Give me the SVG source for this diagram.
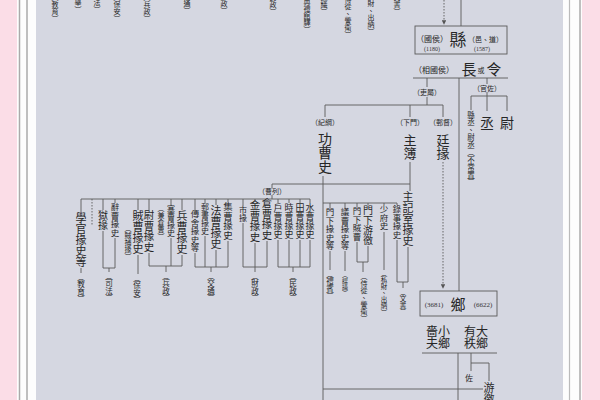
<svg xmlns="http://www.w3.org/2000/svg" width="600" height="400" viewBox="0 0 600 400">
<style>
.v{writing-mode:vertical-rl;font-family:"Noto Sans CJK TC","Noto Sans CJK SC",sans-serif;fill:#262626}
.h{font-family:"Noto Sans CJK TC","Noto Sans CJK SC",sans-serif;fill:#262626}
.n{font-family:"Liberation Serif",serif;fill:#333}
.ln{stroke:#5a5a5a;stroke-width:0.9;fill:none}
.dt{stroke:#5a5a5a;stroke-width:0.9;fill:none;stroke-dasharray:1.5 1.5}
</style>
<defs>
<marker id="ar" viewBox="0 0 6 6" refX="5" refY="3" markerWidth="5" markerHeight="5" orient="auto"><path d="M0,0L6,3L0,6z" fill="#555"/></marker>
</defs>
<rect width="600" height="400" fill="#fbdde7"/>
<rect x="17" y="0" width="19" height="400" fill="#fdfdfd"/>
<rect x="563" y="0" width="19" height="400" fill="#fdfdfd"/>
<line x1="19.5" y1="0" x2="19.5" y2="400" stroke="#aaa" stroke-width="1.5"/>
<line x1="27" y1="0" x2="27" y2="400" stroke="#aaa" stroke-width="1.5"/>
<line x1="569.5" y1="0" x2="569.5" y2="400" stroke="#bbb" stroke-width="1.2"/>
<line x1="580" y1="0" x2="580" y2="400" stroke="#aaa" stroke-width="1.5"/>
<rect x="36" y="0" width="527" height="400" fill="#d5d7e1"/>

<g id="top-labels" font-size="7">
<text class="v" x="55" y="-6">（教育）</text>
<text class="v" x="78" y="-15">（選舉）</text>
<text class="v" x="97" y="-15">（司法）</text>
<text class="v" x="117" y="-6">（保安）</text>
<text class="v" x="147" y="-6">（兵政）</text>
<text class="v" x="187" y="-14">（交通）</text>
<text class="v" x="224" y="-14">（財政）</text>
<text class="v" x="273" y="-13">（民政）</text>
<text class="v" x="307" y="-9">（典禮館驛）</text>
<text class="v" x="324" y="-13">（謀議）</text>
<text class="v" x="348" y="-11">（侍從、警衛）</text>
<text class="v" x="371" y="-14">（私財、出納）</text>
<text class="v" x="397" y="-13">（文書）</text>
</g>

<g id="connectors">
<line class="dt" x1="444" y1="0" x2="444" y2="24" marker-end="url(#ar)"/>
<line class="ln" x1="461" y1="0" x2="461" y2="26"/>
<line class="ln" x1="413" y1="78" x2="508" y2="78"/>
<line class="ln" x1="459" y1="78" x2="459" y2="291"/>
<line class="ln" x1="427" y1="78" x2="427" y2="87"/>
<line class="ln" x1="427" y1="97" x2="427" y2="105"/>
<line class="ln" x1="325" y1="105" x2="443" y2="105"/>
<line class="ln" x1="325" y1="105" x2="325" y2="117"/>
<line class="ln" x1="410" y1="105" x2="410" y2="117"/>
<line class="ln" x1="443" y1="105" x2="443" y2="117"/>
<line class="ln" x1="487" y1="78" x2="487" y2="84"/>
<line class="ln" x1="487" y1="92" x2="487" y2="96"/>
<line class="ln" x1="471" y1="96" x2="507" y2="96"/>
<line class="ln" x1="471" y1="96" x2="471" y2="110"/>
<line class="ln" x1="487" y1="96" x2="487" y2="111"/>
<line class="ln" x1="507" y1="96" x2="507" y2="111"/>
<line class="dt" x1="443" y1="162" x2="443" y2="288" marker-end="url(#ar)"/>
<line class="ln" x1="410" y1="162" x2="410" y2="191"/>
<line class="ln" x1="272" y1="184" x2="410" y2="184"/>
<line class="ln" x1="323" y1="176" x2="323" y2="400"/>
<line class="ln" x1="272" y1="184" x2="272" y2="188"/>
<line class="ln" x1="272" y1="195" x2="272" y2="199"/>
<line class="ln" x1="81" y1="199" x2="310" y2="199"/>
<line class="dt" x1="92" y1="199" x2="92" y2="226"/>
<path class="ln" d="M81,199V212M81,268V273"/>
<path class="ln" d="M103,199V210M115,199V203M103,231V268H115V238M109,268V272"/>
<path class="ln" d="M138,199V210M138,255V274"/>
<path class="ln" d="M149,199V210M171,199V205M182,199V210M149,253V266H182V255M171,238V266M166,266V272"/>
<path class="ln" d="M195,199V210M205,199V203M216,199V205M228,199V202M195,253V267H228V241M205,236V267M216,250V267M211,267V272"/>
<path class="ln" d="M243,199V206M255,199V200M267,199V199M243,223V267H267V241M255,243V272"/>
<path class="ln" d="M278,199V203M289,199V203M300,199V203M310,199V203M278,240V267H310V240M289,240V267M300,240V267M293,267V272"/>
<line class="ln" x1="323" y1="203" x2="397" y2="203"/>
<path class="ln" d="M330,203V208M345,203V208M357,203V207M368,203V205M384,203V205M397,203V205"/>
<path class="ln" d="M330,251V270M345,251V271M357,242V262H368V246M363,262V272M384,232V270M397,240V282H408V247M403,282V288"/>
<line class="ln" x1="458" y1="353" x2="458" y2="400"/>
<path class="ln" d="M471,353V371M471,363H489V381"/>
<line class="ln" x1="323" y1="389" x2="483" y2="389"/>
</g>

<g id="county">
<rect x="415" y="26" width="92" height="28" fill="none" stroke="#5a5a5a" stroke-width="0.9"/>
<text class="h" x="416" y="42" font-size="8">（國侯）</text>
<text class="h" x="458" y="46" font-size="17" text-anchor="middle">縣</text>
<text class="h" x="468" y="42" font-size="7">（邑、道）</text>
<text class="n" x="432" y="51" font-size="6" text-anchor="middle">(1180)</text>
<text class="n" x="482" y="51" font-size="6" text-anchor="middle">(1587)</text>
</g>
<g id="head">
<text class="h" x="414" y="73" font-size="8">（相國侯）</text>
<text class="h" x="469" y="75" font-size="15" text-anchor="middle">長</text>
<text class="h" x="481" y="73" font-size="7" text-anchor="middle">或</text>
<text class="h" x="494" y="75" font-size="15" text-anchor="middle">令</text>
</g>
<g id="guanzuo">
<text class="h" x="487" y="91" font-size="7" text-anchor="middle">（官佐）</text>
<text class="h" x="487" y="128" font-size="14" text-anchor="middle">丞</text>
<text class="h" x="507" y="128" font-size="14" text-anchor="middle">尉</text>
<text class="v" x="471" y="111" font-size="7.5">縣丞、尉丞（不常置）</text>
</g>
<g id="lishu">
<text class="h" x="427" y="95" font-size="7" text-anchor="middle">（吏屬）</text>
</g>
<g id="gongcao">
<text class="h" x="325" y="125" font-size="7" text-anchor="middle">（紀綱）</text>
<text class="v" x="325" y="132" font-size="14">功曹史</text>
</g>
<g id="zhubu">
<text class="h" x="410" y="125" font-size="7" text-anchor="middle">（下門）</text>
<text class="v" x="410" y="134" font-size="13">主簿</text>
</g>
<g id="tingyuan">
<text class="h" x="443" y="125" font-size="7" text-anchor="middle">（郵督）</text>
<text class="v" x="443" y="134" font-size="13">廷掾</text>
</g>
<g id="liecao">
<text class="h" x="272" y="194" font-size="7" text-anchor="middle">（曹列）</text>
</g>

<g id="jiaoyu">
<text class="v" x="81" y="212" font-size="11">學官掾史等</text>
<text class="v" x="81" y="273" font-size="7.5">（教育）</text>
</g>
<g id="sifa">
<text class="v" x="103" y="210" font-size="10">獄掾</text>
<text class="v" x="115" y="203" font-size="8.5">辭曹掾史</text>
<text class="v" x="109" y="272" font-size="7.5">（司法）</text>
</g>
<g id="baoan">
<text class="v" x="128" y="225" font-size="7">（賊捕掾）</text>
<text class="v" x="138" y="210" font-size="11">賊曹掾史</text>
<text class="v" x="137" y="274" font-size="7.5">（保安）</text>
</g>
<g id="bingzheng">
<text class="v" x="149" y="210" font-size="10.5">尉曹掾史</text>
<text class="v" x="161" y="205" font-size="7">（兼倉曹）</text>
<text class="v" x="171" y="205" font-size="8">塞曹掾史</text>
<text class="v" x="182" y="210" font-size="11">兵曹掾史</text>
<text class="v" x="166" y="272" font-size="7.5">（兵政）</text>
</g>
<g id="jiaotong">
<text class="v" x="195" y="210" font-size="8.5">傳舍掾史等</text>
<text class="v" x="205" y="203" font-size="8">郵書掾史</text>
<text class="v" x="216" y="205" font-size="11">法曹掾史</text>
<text class="v" x="228" y="202" font-size="9.5">集曹掾史</text>
<text class="v" x="211" y="272" font-size="7.5">（交通）</text>
</g>
<g id="caizheng">
<text class="v" x="243" y="206" font-size="8">市掾</text>
<text class="v" x="255" y="200" font-size="10.5">金曹掾史</text>
<text class="v" x="267" y="198" font-size="10.5">倉曹掾史</text>
<text class="v" x="255" y="272" font-size="7.5">（財政）</text>
</g>
<g id="minzheng">
<text class="v" x="278" y="203" font-size="9">戶曹掾史</text>
<text class="v" x="289" y="203" font-size="9">時曹掾史</text>
<text class="v" x="300" y="203" font-size="9">田曹掾史</text>
<text class="v" x="310" y="203" font-size="9">水曹掾史</text>
<text class="v" x="293" y="272" font-size="7.5">（民政）</text>
</g>
<g id="menxia">
<text class="v" x="330" y="208" font-size="8.5">門下掾史等</text>
<text class="v" x="330" y="270" font-size="7.5">（禮賓）</text>
<text class="v" x="345" y="208" font-size="8.5">議曹掾史等</text>
<text class="v" x="345" y="272" font-size="6">（謀議）</text>
</g>
<g id="shiwei">
<text class="v" x="357" y="207" font-size="8.5">門下賊曹</text>
<text class="v" x="368" y="205" font-size="10">門下游徼</text>
<text class="v" x="364" y="273" font-size="7">（侍從、警衛）</text>
</g>
<g id="shaofu">
<text class="v" x="384" y="205" font-size="8.5">少府史</text>
<text class="v" x="384" y="270" font-size="6.5">（私財、出納）</text>
</g>
<g id="wenshu">
<text class="v" x="397" y="205" font-size="8.5">錄事掾史</text>
<text class="v" x="408" y="191" font-size="11">主記室掾史</text>
<text class="v" x="403" y="289" font-size="6.5">（文書）</text>
</g>

<g id="xiang">
<rect x="420" y="291" width="77" height="25" fill="none" stroke="#5a5a5a" stroke-width="0.9"/>
<text class="n" x="434" y="307" font-size="7" text-anchor="middle">(3681)</text>
<text class="h" x="458" y="310" font-size="15" text-anchor="middle">鄉</text>
<text class="n" x="483" y="307" font-size="7" text-anchor="middle">(6622)</text>
<text class="v" x="432" y="325" font-size="12">嗇夫</text>
<text class="v" x="444" y="325" font-size="12">小鄉</text>
<text class="v" x="470" y="325" font-size="12">有秩</text>
<text class="v" x="482" y="325" font-size="12">大鄉</text>
<line x1="422" y1="353" x2="497" y2="353" stroke="#5a5a5a" stroke-width="0.9"/>
</g>
<g id="zuo">
<text class="h" x="469" y="381" font-size="8" text-anchor="middle">佐</text>
</g>
<g id="youjiao">
<text class="v" x="489" y="382" font-size="11">游徼</text>
</g>
</svg>
